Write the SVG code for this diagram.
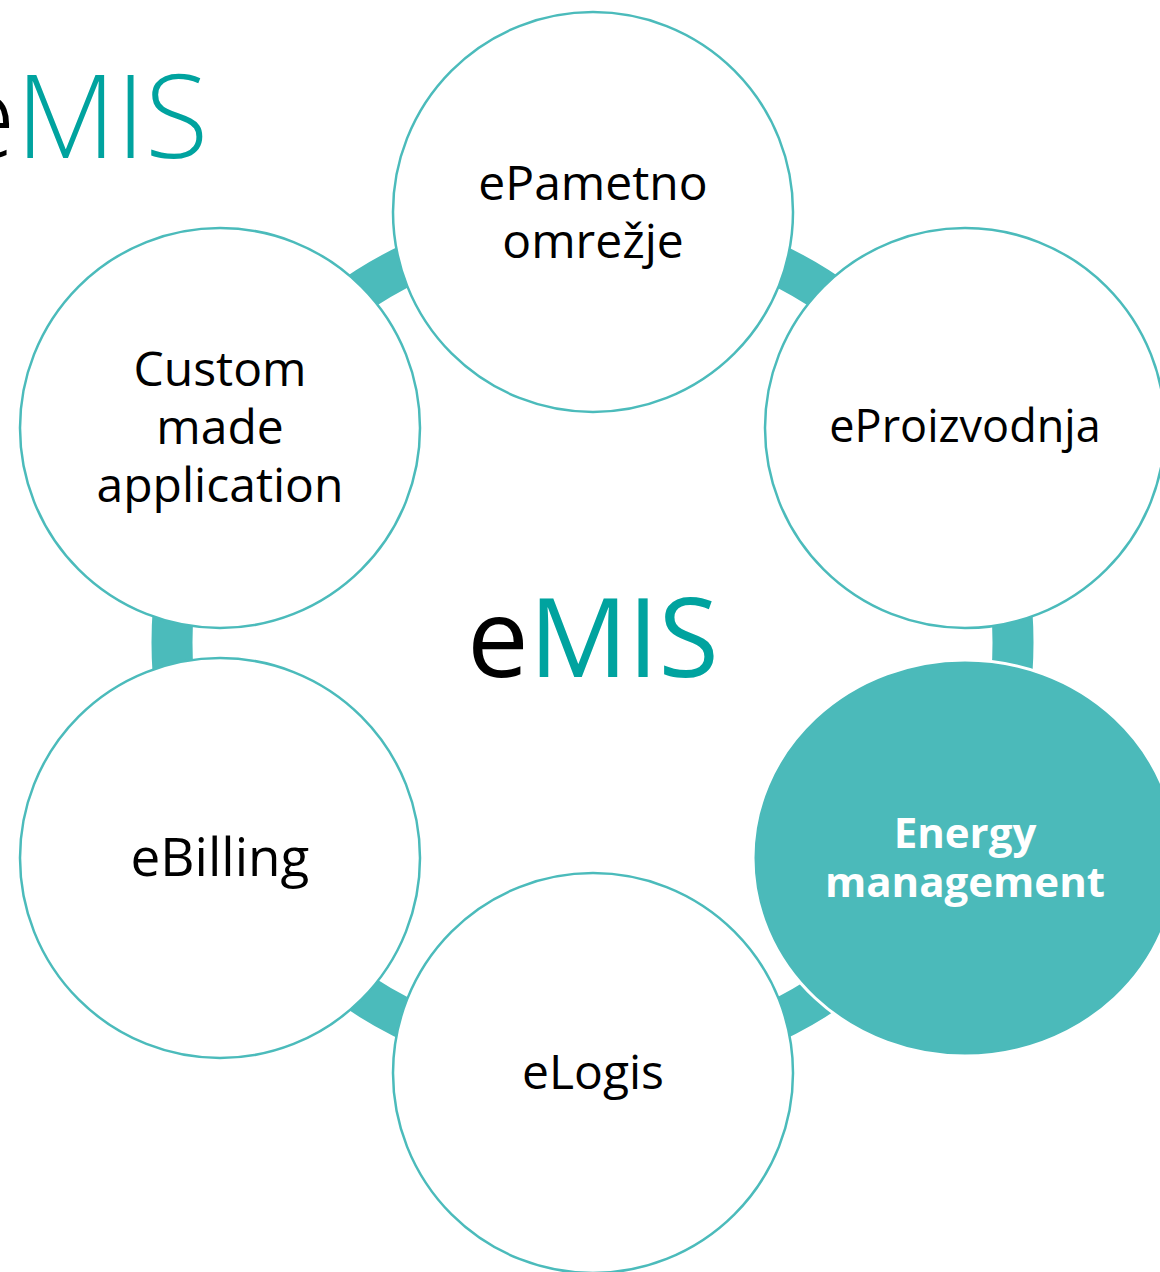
<svg xmlns="http://www.w3.org/2000/svg" width="1160" height="1272" viewBox="0 0 1160 1272">
<style>
.node{fill:#ffffff;stroke:#4bbbbb;stroke-width:2.5}
.hl{fill:#4bbaba;stroke:#ffffff;stroke-width:3}
.lbl{font-family:"Open Sans","Liberation Sans",sans-serif;font-size:48px;fill:#000000;text-anchor:middle}
.lblw{font-family:"Open Sans","Liberation Sans",sans-serif;font-size:42px;font-weight:700;fill:#ffffff;text-anchor:middle}
.teal{fill:#00a39f}
</style>
<rect x="0" y="0" width="1160" height="1272" fill="#ffffff"/>
<text x="-48" y="158" font-family="'Open Sans','Liberation Sans',sans-serif" font-size="116" font-weight="300" fill="#000000">e<tspan class="teal">MIS</tspan></text>
<g id="connectors">
<circle cx="592.5" cy="642.5" r="420.5" fill="none" stroke="#4bbbbb" stroke-width="41"/>
</g>
<g id="node-epametno">
<circle class="node" cx="593" cy="212" r="200"/>
<text class="lbl" x="593" y="200">ePametno</text>
<text class="lbl" x="593" y="258">omrežje</text>
</g>
<g id="node-eproizvodnja">
<circle class="node" cx="965" cy="428" r="200"/>
<text class="lbl" x="965" y="442" style="font-size:45px">eProizvodnja</text>
</g>
<g id="node-energy">
<ellipse class="hl" cx="965" cy="858" rx="212" ry="198"/>
<text class="lblw" x="965" y="848">Energy</text>
<text class="lblw" x="965" y="897">management</text>
</g>
<g id="node-elogis">
<circle class="node" cx="593" cy="1073" r="200"/>
<text class="lbl" x="593" y="1089">eLogis</text>
</g>
<g id="node-ebilling">
<circle class="node" cx="220" cy="858" r="200"/>
<text class="lbl" x="220" y="876" style="font-size:53px">eBilling</text>
</g>
<g id="node-custom">
<circle class="node" cx="220" cy="428" r="200"/>
<text class="lbl" x="220" y="386">Custom</text>
<text class="lbl" x="220" y="444">made</text>
<text class="lbl" x="220" y="502">application</text>
</g>
<g id="center">
<text x="593" y="677" text-anchor="middle" font-family="'Open Sans','Liberation Sans',sans-serif" font-size="110" fill="#000000">e<tspan class="teal">MIS</tspan></text>
</g>
</svg>
